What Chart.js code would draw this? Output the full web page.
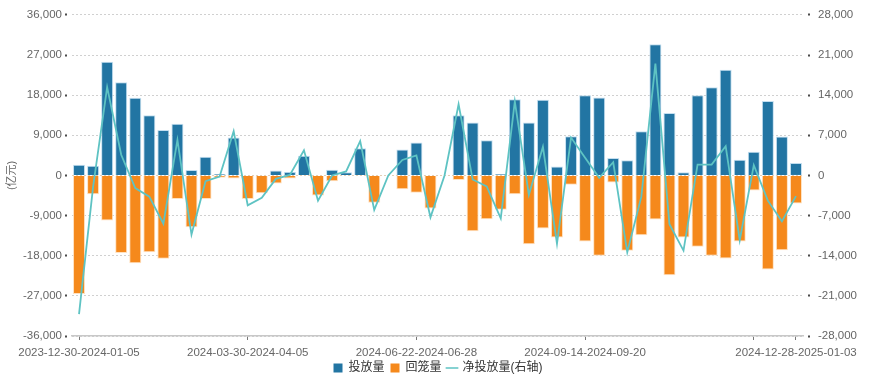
<!DOCTYPE html>
<html>
<head>
<meta charset="utf-8">
<script src="https://cdn.jsdelivr.net/npm/chart.js@4/dist/chart.umd.min.js"></script>
<style>
  html, body { margin: 0; padding: 0; background: #fff; }
  #wrap { width: 876px; height: 387px; position: relative; }
</style>
</head>
<body>
<div id="wrap"><canvas id="chart"></canvas></div>
<script>
// weekly ranges (week of 2024-02-10 has no data)
const weeks = [
  "2023-12-30-2024-01-05", "2024-01-06-2024-01-12", "2024-01-13-2024-01-19", "2024-01-20-2024-01-26",
  "2024-01-27-2024-02-02", "2024-02-03-2024-02-09", "2024-02-17-2024-02-23", "2024-02-24-2024-03-01",
  "2024-03-02-2024-03-08", "2024-03-09-2024-03-15", "2024-03-16-2024-03-22", "2024-03-23-2024-03-29",
  "2024-03-30-2024-04-05", "2024-04-06-2024-04-12", "2024-04-13-2024-04-19", "2024-04-20-2024-04-26",
  "2024-04-27-2024-05-03", "2024-05-04-2024-05-10", "2024-05-11-2024-05-17", "2024-05-18-2024-05-24",
  "2024-05-25-2024-05-31", "2024-06-01-2024-06-07", "2024-06-08-2024-06-14", "2024-06-15-2024-06-21",
  "2024-06-22-2024-06-28", "2024-06-29-2024-07-05", "2024-07-06-2024-07-12", "2024-07-13-2024-07-19",
  "2024-07-20-2024-07-26", "2024-07-27-2024-08-02", "2024-08-03-2024-08-09", "2024-08-10-2024-08-16",
  "2024-08-17-2024-08-23", "2024-08-24-2024-08-30", "2024-08-31-2024-09-06", "2024-09-07-2024-09-13",
  "2024-09-14-2024-09-20", "2024-09-21-2024-09-27", "2024-09-28-2024-10-04", "2024-10-05-2024-10-11",
  "2024-10-12-2024-10-18", "2024-10-19-2024-10-25", "2024-10-26-2024-11-01", "2024-11-02-2024-11-08",
  "2024-11-09-2024-11-15", "2024-11-16-2024-11-22", "2024-11-23-2024-11-29", "2024-11-30-2024-12-06",
  "2024-12-07-2024-12-13", "2024-12-14-2024-12-20", "2024-12-21-2024-12-27", "2024-12-28-2025-01-03"
];

// 投放量 (亿元)
const injection = [
  2400, 2200, 25500, 20900, 17400, 13500, 10200, 11600, 1200, 4200, 300, 8500, 0,
  0, 1100, 800, 4400, 0, 1300, 700, 6100, 0, 0, 5800, 7400, 0,
  0, 13500, 11900, 7900, 300, 17100, 11900, 17000, 2000, 8800, 18000, 17500, 3900,
  3400, 9900, 29400, 14000, 700, 18000, 19800, 23700, 3500, 5300, 16700, 8750, 2800
];

// 回笼量 (亿元, negative)
const withdrawal = [
  -26600, -4200, -10100, -17400, -19700, -17200, -18700, -5300, -11600, -5300, -500, -700, -5300,
  -4000, -1800, -700, 0, -4500, -1300, 0, 0, -6100, 0, -3100, -3900, -7400,
  0, -1000, -12500, -9800, -7700, -4200, -15400, -11900, -13900, -2100, -14800, -18000, -1600,
  -16900, -13400, -9900, -22400, -13900, -16000, -18000, -18600, -14800, -3400, -21100, -16800, -6300
];

// 净投放量 (右轴)
const netInjection = [
  -24200, -2000, 15400, 3600, -2200, -3700, -8400, 6200, -10300, -1000, -200, 7700, -5200,
  -3900, -600, 100, 4400, -4400, 0, 700, 6000, -6000, 0, 2700, 3500, -7300,
  0, 12400, -700, -1900, -7500, 12900, -3400, 5000, -11900, 6600, 3100, -400, 2300,
  -13400, -3700, 19500, -8500, -13100, 1900, 1900, 5100, -11300, 1800, -4400, -8000, -3600
];

const labelIdx = [0, 12, 24, 36, 51];
const tickIdx = [0, 12, 24, 36, 48, 51];

const BLUE = "#2275a3";
const ORANGE = "#f5891c";
const TEAL = "#5ec3c3";
const FONT = "'Liberation Sans', Arial, 'Noto Sans CJK SC', sans-serif";

const ctx = document.getElementById("chart").getContext("2d");

new Chart(ctx, {
  type: "bar",
  data: {
    labels: weeks,
    datasets: [
      {
        label: "投放量",
        data: injection,
        backgroundColor: BLUE,
        borderColor: "rgba(190,220,238,0.9)",
        borderWidth: 1,
        stack: "s",
        yAxisID: "y",
        categoryPercentage: 0.9,
        barPercentage: 0.95,
        order: 1
      },
      {
        label: "回笼量",
        data: withdrawal,
        backgroundColor: ORANGE,
        borderColor: "rgba(255,222,185,0.9)",
        borderWidth: 1,
        stack: "s",
        yAxisID: "y",
        categoryPercentage: 0.9,
        barPercentage: 0.95,
        order: 1
      },
      {
        type: "line",
        label: "净投放量(右轴)",
        data: netInjection,
        borderColor: TEAL,
        backgroundColor: TEAL,
        borderWidth: 1.8,
        pointRadius: 0,
        tension: 0,
        yAxisID: "y1",
        order: 0
      }
    ]
  },
  options: {
    responsive: true,
    maintainAspectRatio: false,
    animation: false,
    layout: { padding: { top: 13, bottom: 3, left: 0, right: 0 } },
    plugins: {
      tooltip: { enabled: false },
      legend: {
        position: "bottom",
        labels: {
          font: { family: FONT, size: 12 },
          color: "#333",
          boxWidth: 9,
          boxHeight: 9,
          padding: 6,
          usePointStyle: true,
          generateLabels(chart) {
            const items = Chart.defaults.plugins.legend.labels.generateLabels(chart);
            items.sort((a, b) => a.datasetIndex - b.datasetIndex);
            items.forEach((it) => {
              if (it.datasetIndex === 2) {
                it.pointStyle = "line";
                it.strokeStyle = TEAL;
                it.lineWidth = 1.5;
              } else {
                it.pointStyle = "rect";
                it.lineWidth = 0;
              }
            });
            return items;
          }
        }
      }
    },
    scales: {
      x: {
        stacked: true,
        offset: true,
        grid: {
          offset: false,
          drawOnChartArea: false,
          tickLength: 4,
          tickWidth: 1,
          tickColor: (c) => tickIdx.includes(c.index) ? "#777" : "rgba(0,0,0,0)"
        },
        border: { display: true, color: "#c8c8c8", width: 1.5 },
        ticks: {
          autoSkip: false,
          maxRotation: 0,
          padding: 6,
          color: "#666",
          font: { family: FONT, size: 11.5 },
          callback: (v, i) => labelIdx.includes(i) ? weeks[i] : ""
        },
        afterFit: (s) => { s.height = 20; }
      },
      y: {
        stacked: true,
        position: "left",
        min: -36000,
        max: 36000,
        ticks: {
          stepSize: 9000,
          color: "#666",
          padding: 3,
          font: { family: FONT, size: 11.5 }
        },
        grid: {
          color: (c) => c.tick && c.tick.value === 0 ? "rgba(215,185,150,0.7)" : "#d0d0d0",
          lineWidth: 1,
          tickLength: 7,
          tickWidth: 2,
          tickColor: "#4a4a4a",
          tickBorderDash: [2, 10],
          tickBorderDashOffset: 0
        },
        border: { display: false, dash: [2, 2] },
        title: {
          display: true,
          text: "(亿元)",
          color: "#666",
          font: { family: FONT, size: 11 },
          padding: { top: 5, bottom: 0 }
        },
        afterFit: (s) => { s.width = 72; }
      },
      y1: {
        position: "right",
        min: -28000,
        max: 28000,
        ticks: {
          stepSize: 7000,
          color: "#666",
          padding: 8,
          font: { family: FONT, size: 11.5 }
        },
        grid: {
          drawOnChartArea: false,
          tickLength: 7,
          tickWidth: 2,
          tickColor: "#4a4a4a",
          tickBorderDash: [2, 10],
          tickBorderDashOffset: 7
        },
        border: { display: false },
        afterFit: (s) => { s.width = 73; }
      }
    }
  }
});
</script>
</body>
</html>
